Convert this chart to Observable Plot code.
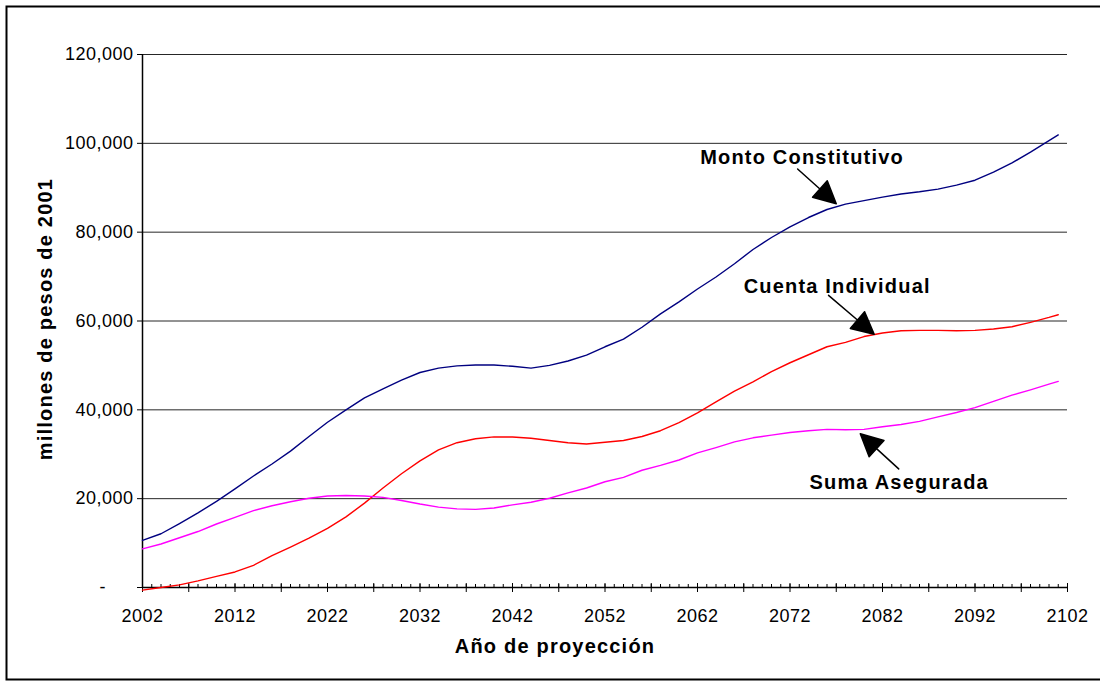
<!DOCTYPE html>
<html>
<head>
<meta charset="utf-8">
<script src="https://cdn.jsdelivr.net/npm/d3@7"></script>
<script src="https://cdn.jsdelivr.net/npm/@observablehq/plot@0.6"></script>
<style>
  body { margin: 0; background: #fff; }
  #chart svg { display: block; }
</style>
</head>
<body>
<div id="chart"></div>
<script>
// ---- Data ----
const years = [2002,2004,2006,2008,2010,2012,2014,2016,2018,2020,2022,2024,2026,2028,2030,2032,2034,2036,2038,2040,2042,2044,2046,2048,2050,2052,2054,2056,2058,2060,2062,2064,2066,2068,2070,2072,2074,2076,2078,2080,2082,2084,2086,2088,2090,2092,2094,2096,2098,2100,2101];

const montoConstitutivo = [10600,12100,14400,16800,19400,22200,25100,27800,30700,34000,37200,40000,42700,44700,46700,48400,49400,49900,50100,50100,49800,49400,50000,51000,52300,54200,55900,58600,61600,64300,67200,69900,72900,76100,78800,81200,83300,85100,86300,87100,87900,88600,89100,89700,90600,91700,93500,95600,98000,100600,101900];

const cuentaIndividual = [-600,0,600,1500,2500,3500,5000,7200,9100,11100,13300,15900,19000,22400,25600,28500,31000,32600,33500,33900,33900,33600,33100,32600,32300,32700,33100,34000,35300,37100,39300,41800,44200,46300,48600,50600,52400,54200,55200,56500,57300,57800,57900,57900,57800,57900,58200,58700,59700,60800,61400];

const sumaAsegurada = [8700,9800,11200,12600,14300,15800,17300,18400,19300,20100,20600,20700,20600,20300,19600,18800,18100,17700,17600,17900,18600,19200,20100,21300,22400,23800,24800,26400,27500,28700,30300,31500,32800,33700,34300,34900,35300,35600,35500,35600,36200,36700,37400,38400,39400,40500,41900,43300,44500,45800,46400];

const seriesNames = ["Monto Constitutivo", "Cuenta Individual", "Suma Asegurada"];
const seriesColors = ["#000080", "#FF0000", "#FF00FF"];

const yTicks = [0, 20000, 40000, 60000, 80000, 100000, 120000];
const xTickLabels = [2002, 2012, 2022, 2032, 2042, 2052, 2062, 2072, 2082, 2092, 2102];

// annotation anchors (data units)
const labelYears  = [2073.3, 2077.1, 2083.8];
const labelValues = [96800, 67800, 23600];
const arrowTipYears  = [2077.0, 2081.1, 2079.6];
const arrowTipValues = [86400, 57000, 34600];

const xTitle = "Año de proyección";
const yTitle = "millones de pesos de 2001";

// ---- Build table ----
const seriesValues = [montoConstitutivo, cuentaIndividual, sumaAsegurada];
const rows = [];
seriesNames.forEach((name, s) => {
  years.forEach((yr, i) => rows.push({series: name, year: yr, value: seriesValues[s][i]}));
});
const labels = seriesNames.map((name, i) => ({name, year: labelYears[i], value: labelValues[i]}));

// arrow geometry (pixels / degrees) – styling, not data
const arrowLen = [52, 60, 52];
const arrowRot = [132, 130.5, 312.4];
const arrowShape = {
  draw(ctx, l) {
    const h = 22, w = 11;
    ctx.moveTo(0, 0);
    ctx.lineTo(0, -(l - h));
    ctx.moveTo(-w, -(l - h));
    ctx.lineTo(0, -l);
    ctx.lineTo(w, -(l - h));
    ctx.closePath();
  }
};

const fmt = d3.format(",");
const font = "'Liberation Sans', Arial, Helvetica, sans-serif";

const chart = Plot.plot({
  width: 1100,
  height: 681,
  marginLeft: 142,
  marginRight: 33,
  marginTop: 54,
  marginBottom: 94,
  style: {fontFamily: font, fontSize: "18px", color: "#000", background: "#fff"},
  x: {domain: [2002, 2102]},
  y: {domain: [0, 120000]},
  color: {domain: seriesNames, range: seriesColors},
  marks: [
    Plot.frame({stroke: "#000", strokeWidth: 2, insetLeft: -136, insetTop: -48, insetRight: -45, insetBottom: -92}),
    Plot.gridY(yTicks.filter(d => d > 0), {stroke: "#000", strokeOpacity: 0.85, strokeWidth: 1}),
    Plot.ruleX(d3.range(2003, 2102), {stroke: "#000", insetTop: 530, strokeWidth: 1}),
    Plot.ruleX(d3.range(2002, 2103, 5), {stroke: "#000", insetTop: 529, insetBottom: -5, strokeWidth: 1}),
    Plot.axisY(yTicks, {tickSize: 5, tickPadding: 4, label: null, fontSize: 18,
      tickFormat: d => d === 0 ? "-\u00a0\u00a0\u00a0\u00a0\u00a0" : fmt(d)}),
    Plot.axisX(xTickLabels, {tickSize: 0, tickPadding: 22, label: null, fontSize: 18, tickFormat: d => String(d)}),
    Plot.ruleX([2002], {stroke: "#000", strokeWidth: 1.5}),
    Plot.ruleY([0], {stroke: "#000", strokeWidth: 1.5}),
    Plot.line(rows, {x: "year", y: "value", z: "series", stroke: "series", strokeWidth: 1.4, curve: "linear"}),
    Plot.text(labels, {x: "year", y: "value", text: "name", fontWeight: "bold", fontSize: 20, fill: "#000"}),
    ...seriesNames.map((_, i) => Plot.vector([i], {
      x: () => arrowTipYears[i], y: () => arrowTipValues[i],
      length: arrowLen[i], rotate: arrowRot[i], anchor: "end",
      shape: arrowShape, stroke: "#000", fill: "#000", strokeWidth: 1.5
    })),
    Plot.text([xTitle], {frameAnchor: "bottom", dx: -50, dy: 65, fontWeight: "bold", fontSize: 20, fill: "#000"}),
    Plot.text([yTitle], {frameAnchor: "left", textAnchor: "middle", rotate: -90, dx: -97, dy: -2, fontWeight: "bold", fontSize: 20, fill: "#000"})
  ]
});

document.getElementById("chart").appendChild(chart);

// letter spacing to mimic the wide spreadsheet text rendering
d3.select(chart).selectAll("text").each(function() {
  const el = d3.select(this);
  const bold = el.attr("font-weight") === "bold" || (this.parentNode && this.parentNode.getAttribute("font-weight") === "bold");
  el.attr("letter-spacing", bold ? "1.2px" : "0.5px");
});
</script>
</body>
</html>
